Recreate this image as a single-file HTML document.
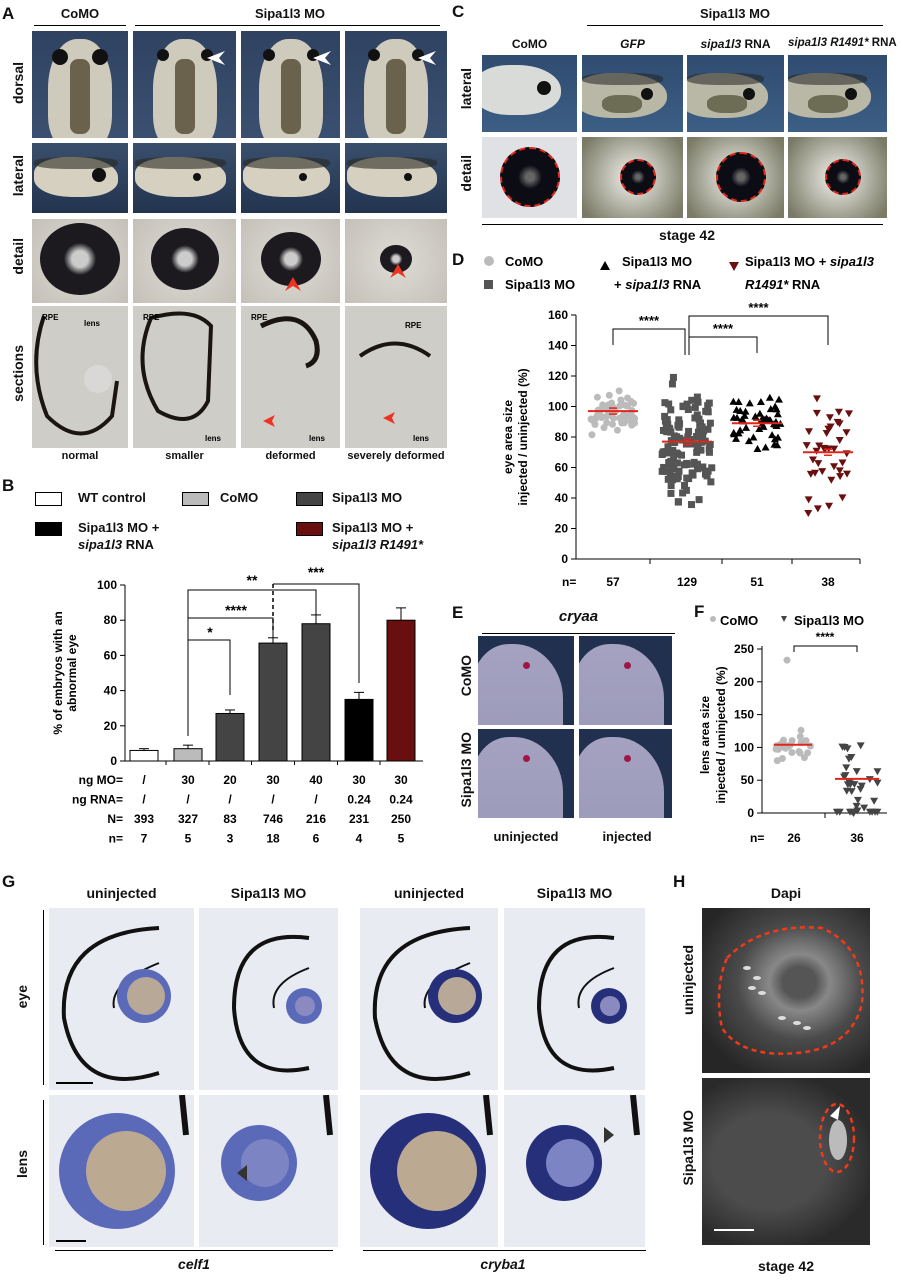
<!DOCTYPE html>
<html><head><meta charset="utf-8"><style>
body{margin:0;width:903px;height:1280px;background:#fff;position:relative;overflow:hidden;font-family:"Liberation Sans",Arial,sans-serif;color:#111}
.a{position:absolute}
.L{font-weight:bold;font-size:17px}
.t{font-size:13px;font-weight:bold}
.img{position:absolute;overflow:hidden}
.dot{position:absolute;border-radius:50%;background:#111}
.vl{writing-mode:vertical-rl;transform:rotate(180deg);font-weight:bold;font-size:14px;position:absolute;white-space:nowrap}
.gray{background:radial-gradient(circle at 50% 50%,#dedcd6,#c4c0b8)}
.sec{background:#cfcdc8}
.ish{background:#e9ebf2}
.ctr{text-align:center;white-space:nowrap}
</style></head><body>
<!-- Panel A -->
<div class="a L" style="left:2px;top:4px">A</div>
<div class="a t ctr" style="left:32px;top:6px;width:96px">CoMO</div>
<div class="a" style="left:34px;top:25px;width:92px;border-top:1px solid #000"></div>
<div class="a t ctr" style="left:133px;top:6px;width:314px">Sipa1l3 MO</div>
<div class="a" style="left:135px;top:25px;width:305px;border-top:1px solid #000"></div>
<div class="vl" style="left:10px;top:62px">dorsal</div>
<div class="vl" style="left:10px;top:155px">lateral</div>
<div class="vl" style="left:10px;top:238px">detail</div>
<div class="vl" style="left:10px;top:345px">sections</div>
<div id="Acols"></div>
<div class="a ctr" style="left:32px;top:450px;width:96px;font-size:11px;font-weight:bold">normal</div>
<div class="a ctr" style="left:133px;top:450px;width:103px;font-size:11px;font-weight:bold">smaller</div>
<div class="a ctr" style="left:241px;top:450px;width:99px;font-size:11px;font-weight:bold">deformed</div>
<div class="a ctr" style="left:345px;top:450px;width:102px;font-size:11px;font-weight:bold">severely deformed</div>

<!-- Panel B legend -->
<div class="a L" style="left:2px;top:476px">B</div>
<div class="a" style="left:35px;top:492px;width:25px;height:12px;border:1px solid #000;background:#fff"></div>
<div class="a t" style="left:78px;top:490px">WT control</div>
<div class="a" style="left:182px;top:492px;width:25px;height:12px;border:1px solid #000;background:#bbb"></div>
<div class="a t" style="left:220px;top:490px">CoMO</div>
<div class="a" style="left:296px;top:492px;width:25px;height:12px;border:1px solid #000;background:#444"></div>
<div class="a t" style="left:332px;top:490px">Sipa1l3 MO</div>
<div class="a" style="left:35px;top:522px;width:25px;height:12px;border:1px solid #000;background:#000"></div>
<div class="a t" style="left:78px;top:519px;line-height:17px">Sipa1l3 MO +<br><i>sipa1l3</i> RNA</div>
<div class="a" style="left:296px;top:522px;width:25px;height:12px;border:1px solid #000;background:#6a0f0f"></div>
<div class="a t" style="left:332px;top:519px;line-height:17px">Sipa1l3 MO +<br><i>sipa1l3 R1491*</i></div>

<!-- Panel C -->
<div class="a L" style="left:452px;top:2px">C</div>
<div class="a t ctr" style="left:587px;top:6px;width:296px">Sipa1l3 MO</div>
<div class="a" style="left:587px;top:25px;width:296px;border-top:1px solid #000"></div>
<div class="a t ctr" style="left:482px;top:37px;width:95px;font-size:12px">CoMO</div>
<div class="a t ctr" style="left:582px;top:37px;width:101px;font-size:12px"><i>GFP</i></div>
<div class="a t ctr" style="left:687px;top:37px;width:97px;font-size:12px"><i>sipa1l3</i> RNA</div>
<div class="a t ctr" style="left:788px;top:37px;width:99px;font-size:11.5px"><i>sipa1l3 R1491*</i> RNA</div>
<div class="vl" style="left:458px;top:68px">lateral</div>
<div class="vl" style="left:458px;top:155px">detail</div>
<div id="Ccols"></div>
<div class="a" style="left:482px;top:224px;width:401px;border-top:1px solid #000"></div>
<div class="a t ctr" style="left:587px;top:227px;width:200px;font-size:14px">stage 42</div>

<!-- Panel D legend -->
<div class="a L" style="left:452px;top:250px">D</div>

<!-- Panel E -->
<div class="a L" style="left:452px;top:603px">E</div>
<div class="a ctr" style="left:482px;top:608px;width:193px;font-size:15px;font-weight:bold;font-style:italic">cryaa</div>
<div class="a" style="left:482px;top:633px;width:193px;border-top:1px solid #000"></div>
<div class="vl" style="left:458px;top:655px">CoMO</div>
<div class="vl" style="left:458px;top:732px">Sipa1l3 MO</div>
<div id="Ecols"></div>
<div class="a t ctr" style="left:478px;top:829px;width:96px">uninjected</div>
<div class="a t ctr" style="left:579px;top:829px;width:96px">injected</div>

<!-- Panel F -->
<div class="a L" style="left:694px;top:602px">F</div>

<!-- Panel G -->
<div class="a L" style="left:2px;top:872px">G</div>
<div class="a t ctr" style="left:49px;top:885px;width:145px;font-size:14px">uninjected</div>
<div class="a t ctr" style="left:199px;top:885px;width:139px;font-size:14px">Sipa1l3 MO</div>
<div class="a t ctr" style="left:360px;top:885px;width:138px;font-size:14px">uninjected</div>
<div class="a t ctr" style="left:504px;top:885px;width:141px;font-size:14px">Sipa1l3 MO</div>
<div class="vl" style="left:14px;top:985px">eye</div>
<div class="vl" style="left:14px;top:1150px">lens</div>
<div class="a" style="left:43px;top:910px;height:175px;border-left:1px solid #000"></div>
<div class="a" style="left:43px;top:1100px;height:145px;border-left:1px solid #000"></div>
<div id="Gcols"></div>
<div class="a" style="left:55px;top:1250px;width:278px;border-top:1px solid #000"></div>
<div class="a" style="left:363px;top:1250px;width:283px;border-top:1px solid #000"></div>
<div class="a t ctr" style="left:94px;top:1256px;width:200px;font-size:14px"><i>celf1</i></div>
<div class="a t ctr" style="left:403px;top:1256px;width:200px;font-size:14px"><i>cryba1</i></div>

<!-- Panel H -->
<div class="a L" style="left:673px;top:872px">H</div>
<div class="a t ctr" style="left:702px;top:885px;width:168px;font-size:14px">Dapi</div>
<div class="vl" style="left:680px;top:945px">uninjected</div>
<div class="vl" style="left:680px;top:1110px">Sipa1l3 MO</div>
<div class="img" style="left:702px;top:908px;width:168px;height:165px;background:radial-gradient(ellipse at 58% 45%,#555 0 12%,#888 22%,#4a4a4a 45%,#262626 80%)">
<svg width="168" height="165"><path d="M25 50 Q60 15 120 20 Q165 40 160 95 Q150 140 95 145 Q40 150 20 120 Q12 80 25 50Z" fill="none" stroke="#f03a1a" stroke-width="2.5" stroke-dasharray="5 4"/>
<g fill="#ddd"><ellipse cx="45" cy="60" rx="4" ry="2"/><ellipse cx="55" cy="70" rx="4" ry="2"/><ellipse cx="60" cy="85" rx="4" ry="2"/><ellipse cx="80" cy="110" rx="4" ry="2"/><ellipse cx="95" cy="115" rx="4" ry="2"/><ellipse cx="105" cy="120" rx="4" ry="2"/><ellipse cx="50" cy="80" rx="4" ry="2"/></g></svg></div>
<div class="img" style="left:702px;top:1078px;width:168px;height:167px;background:radial-gradient(ellipse at 40% 50%,#4c4c4c 0 40%,#2a2a2a 75%)">
<svg width="168" height="167"><ellipse cx="135" cy="60" rx="17" ry="34" fill="none" stroke="#f03a1a" stroke-width="2.5" stroke-dasharray="5 4"/><ellipse cx="136" cy="62" rx="9" ry="20" fill="#bbb"/><path d="M128 38 l10 -10 l-2 14z" fill="#fff"/><line x1="12" x2="52" y1="152" y2="152" stroke="#fff" stroke-width="2"/></svg></div>
<div class="a t ctr" style="left:702px;top:1258px;width:168px;font-size:14px">stage 42</div>

<svg class="a" style="left:0;top:0" width="903" height="1280" font-family="Liberation Sans" font-size="12" font-weight="bold" id="charts"></svg>

<script>
function el(id,html){document.getElementById(id).insertAdjacentHTML('beforeend',html)}
// Panel A
var ax=[[32,96],[133,103],[241,99],[345,102]];
ax.forEach(function(c,i){
 var x=c[0],w=c[1],cx=w/2;
 el('Acols','<div class="img" style="left:'+x+'px;top:31px;width:'+w+'px;height:107px;background:linear-gradient(#2f4262,#3b5070)"><div style="position:absolute;left:'+(cx-32)+'px;top:8px;width:64px;height:110px;border-radius:45% 45% 30% 30%;background:#cfcbbc"></div><div class="dot" style="left:'+(cx-28)+'px;top:18px;width:'+(i?12:16)+'px;height:'+(i?12:16)+'px"></div><div class="dot" style="left:'+(cx+(i?16:12))+'px;top:18px;width:'+(i?12:16)+'px;height:'+(i?12:16)+'px"></div><div style="position:absolute;left:'+(cx-10)+'px;top:28px;width:20px;height:75px;background:#4a3f2a;opacity:.75;border-radius:8px"></div>'+(i?'<svg style="position:absolute;left:'+(cx+22)+'px;top:20px" width="20" height="14"><path d="M0 7 L18 0 L12 7 L18 14Z" fill="#fff"/></svg>':'')+'</div>');
 el('Acols','<div class="img" style="left:'+x+'px;top:143px;width:'+w+'px;height:70px;background:linear-gradient(#3a4f6d,#22344e)"><div style="position:absolute;left:2px;top:14px;width:'+(w-12)+'px;height:40px;border-radius:40% 50% 40% 45%;background:#d6d0c0"></div><div style="position:absolute;left:2px;top:14px;width:'+(w-12)+'px;height:12px;background:#2a2a22;opacity:.6;border-radius:40%"></div><div class="dot" style="left:'+(cx+(i?8:12))+'px;top:'+(i?30:25)+'px;width:'+(i?8:14)+'px;height:'+(i?8:14)+'px"></div></div>');
 var r=[40,34,30,16][i];
 el('Acols','<div class="img gray" style="left:'+x+'px;top:219px;width:'+w+'px;height:84px"><div class="dot" style="left:'+(cx-r)+'px;top:'+(40-r*0.9)+'px;width:'+2*r+'px;height:'+(1.8*r)+'px;background:radial-gradient(circle,#ccc 0 15%,#1c1a1e 30%)"></div>'+(i>1?'<svg style="position:absolute;left:'+(cx-6)+'px;top:'+(i==2?58:45)+'px" width="16" height="14"><path d="M8 0 L16 14 L8 9 L0 14Z" fill="#e32"/></svg>':'')+'</div>');
 var p=['M12 10 Q-5 60 15 110 Q50 145 80 110 L85 75','M18 12 Q-2 60 25 105 Q60 125 75 95 L78 20 Q60 0 18 12','M20 20 Q60 0 75 35 Q80 55 65 60','M15 50 Q50 25 85 50'][i];
 el('Acols','<div class="img sec" style="left:'+x+'px;top:306px;width:'+w+'px;height:142px"><svg width="'+w+'" height="142"><path d="'+p+'" fill="none" stroke="#1a1510" stroke-width="'+(i==2?5:4)+'"/><text x="'+(i==3?60:10)+'" y="'+(i==3?22:14)+'" font-size="8" font-weight="bold" font-family="Liberation Sans">RPE</text><text x="'+(i==0?52:(i==1?72:68))+'" y="'+(i==0?20:135)+'" font-size="8" font-weight="bold" font-family="Liberation Sans">lens</text>'+(i==0?'<circle cx="66" cy="73" r="14" fill="#ddd" opacity=".7"/>':'')+(i>1?'<path d="M'+(i==2?22:38)+' '+(i==2?115:112)+' l12 -6 l-3 6 l3 6z" fill="#e32"/>':'')+'</svg></div>');
});
// Panel C
var cc=[[482,95],[582,101],[687,97],[788,99]],cr=[30,18,25,18];
cc.forEach(function(c,i){
 var x=c[0],w=c[1];
 el('Ccols','<div class="img" style="left:'+x+'px;top:55px;width:'+w+'px;height:77px;background:linear-gradient(#2f4b70,#3d5f85)"><div style="position:absolute;left:-8px;top:'+(i?18:10)+'px;width:'+(w-8)+'px;height:'+(i?45:50)+'px;border-radius:40% 50% 45% 40%;background:'+(i?'#b9b8a6':'#d8dbd8')+'"></div>'+(i?'<div style="position:absolute;left:0;top:18px;width:'+(w-20)+'px;height:12px;background:#222;opacity:.55;border-radius:40%"></div><div style="position:absolute;left:20px;top:40px;width:40px;height:18px;background:#3b3a20;opacity:.6;border-radius:40%"></div>':'')+'<div class="dot" style="left:'+(w*0.58)+'px;top:'+(i?33:26)+'px;width:'+(i?12:14)+'px;height:'+(i?12:14)+'px"></div></div>');
 var r=cr[i];
 el('Ccols','<div class="img" style="left:'+x+'px;top:137px;width:'+w+'px;height:81px;background:'+(i?'radial-gradient(circle,#d8d8d0 20%,#7a7a66 90%)':'#dfe1e4')+'"><div class="dot" style="left:'+(w/2-r+(i?5:0))+'px;top:'+(40-r)+'px;width:'+2*r+'px;height:'+2*r+'px;background:radial-gradient(circle,#666 0 10%,#0c0c14 30%);border:2px dashed #e0261a;box-sizing:border-box"></div></div>');
});
// Panel E
[[478,636],[579,636],[478,729],[579,729]].forEach(function(p){
 el('Ecols','<div class="img" style="left:'+p[0]+'px;top:'+p[1]+'px;width:'+(p[0]==478?96:93)+'px;height:89px;background:#20304e"><div style="position:absolute;left:-5px;top:8px;width:90px;height:100px;border-radius:40% 55% 20% 10%;background:linear-gradient(#a4a2c0,#9b9ab8)"></div><div class="dot" style="left:'+(p[0]==478?45:45)+'px;top:26px;width:7px;height:7px;background:#a01545"></div></div>');
});
// Panel G
var gc=[[49,145],[199,139],[360,138],[504,141]];
gc.forEach(function(c,i){
 var x=c[0],w=c[1],sm=i%2,dk=i>1;
 var lc=dk?'#26307a':'#5a6ab8';
 el('Gcols','<div class="img ish" style="left:'+x+'px;top:908px;width:'+w+'px;height:182px"><svg width="'+w+'" height="182"><path d="'+(sm?'M110 30 Q35 20 35 100 Q40 175 110 160':'M110 20 Q10 25 15 110 Q30 190 110 165')+'" fill="none" stroke="#111" stroke-width="4"/><path d="M110 '+(sm?60:55)+' Q'+(sm?70:60)+' 75 '+(sm?75:65)+' 100" fill="none" stroke="#111" stroke-width="2"/><circle cx="'+(sm?105:95)+'" cy="'+(sm?98:88)+'" r="'+(sm?18:27)+'" fill="'+lc+'"/><circle cx="'+(sm?106:97)+'" cy="'+(sm?98:88)+'" r="'+(sm?10:19)+'" fill="'+(sm?'#8a8ac0':'#b8a898')+'"/></svg></div>');
 el('Gcols','<div class="img ish" style="left:'+x+'px;top:1095px;width:'+w+'px;height:152px"><svg width="'+w+'" height="152"><circle cx="'+(sm?60:68)+'" cy="'+(sm?68:76)+'" r="'+(sm?38:58)+'" fill="'+lc+'"/><circle cx="'+(sm?66:77)+'" cy="'+(sm?68:76)+'" r="'+(sm?24:40)+'" fill="'+(sm?'#7d84c4':'#bca992')+'"/><path d="M'+(w-12)+' 0 L'+(w-8)+' 40" stroke="#111" stroke-width="6"/>'+(sm?'<path d="'+(i==1?'M38 78 l10 -8 v16z':'M110 40 l-10 -8 v16z')+'" fill="#333"/>':'')+'</svg></div>');
});
el('Gcols','<div class="a" style="left:56px;top:1082px;width:37px;border-top:2px solid #000"></div><div class="a" style="left:56px;top:1240px;width:30px;border-top:2px solid #000"></div>');

var seed=7;function rnd(){seed=(seed*9301+49297)%233280;return seed/233280;}
function gauss(){return (rnd()+rnd()+rnd()-1.5)*1.6;}
var g='';
function txt(x,y,s,anc,extra){g+='<text x="'+x+'" y="'+y+'"'+(anc?' text-anchor="'+anc+'"':'')+(extra||'')+'>'+s+'</text>';}
function line(x1,y1,x2,y2,c,w,d){g+='<line x1="'+x1+'" y1="'+y1+'" x2="'+x2+'" y2="'+y2+'" stroke="'+(c||'#000')+'" stroke-width="'+(w||1)+'"'+(d?' stroke-dasharray="'+d+'"':'')+'/>';}
// B chart
(function(){
 var y0=761,sc=1.76,axx=125;
 g+='<text transform="translate(62,673) rotate(-90)" text-anchor="middle">% of embryos with an</text>';
 g+='<text transform="translate(76,673) rotate(-90)" text-anchor="middle">abnormal eye</text>';
 line(axx,585,axx,y0);line(axx,y0,423,y0);
 [0,20,40,60,80,100].forEach(function(v){var y=y0-v*sc;line(axx-5,y,axx,y);txt(axx-8,y+4,v,'end');});
 var xs=[144,188,230,273,316,359,401],hv=[6,7,27,67,78,35,80],er=[1,2,2,3,5,4,7],col=['#fff','#bbb','#444','#444','#444','#000','#6a0f0f'];
 xs.forEach(function(x,i){var h=hv[i]*sc;g+='<rect x="'+(x-14)+'" y="'+(y0-h)+'" width="28" height="'+h+'" fill="'+col[i]+'" stroke="#000"/>';var te=y0-h-er[i]*sc;line(x,y0-h,x,te);line(x-5,te,x+5,te);if(i>0&&i<7)line((x+xs[i-1])/2,y0,(x+xs[i-1])/2,y0+4);});
 function br(x1,x2,y,yl,yr,lab,ty){g+='<path d="M'+x1+' '+yl+' V'+y+' H'+x2+' V'+yr+'" fill="none" stroke="#000"/>';txt(ty||(x1+x2)/2,y-3,lab,'middle',' font-size="14"');}
 br(188,230,640,736,695,'*',210);
 br(188,273,618,736,640,'****',236);
 g+='<path d="M188 736 V590 H316 V622" fill="none" stroke="#000"/>';txt(252,585,'**','middle',' font-size="14"');
 g+='<path d="M273 584 H359 V683" fill="none" stroke="#000"/>';line(273,584,273,632,'#000',1.5,'4 3');txt(316,577,'***','middle',' font-size="14"');
 var rows=[['ng MO=','/','30','20','30','40','30','30'],['ng RNA=','/','/','/','/','/','0.24','0.24'],['N=','393','327','83','746','216','231','250'],['n=','7','5','3','18','6','4','5']];
 rows.forEach(function(r,j){var y=784+j*19.5;txt(123,y,r[0],'end');xs.forEach(function(x,i){txt(x,y,r[i+1],'middle');});});
})();
// D chart
(function(){
 var y0=559,sc=1.525,axx=576;
 g+='<circle cx="489" cy="261" r="5" fill="#bbb"/>';txt(505,266,'CoMO','',' font-size="13"');
 g+='<rect x="484" y="280" width="9" height="9" fill="#555"/>';txt(505,289,'Sipa1l3 MO','',' font-size="13"');
 g+='<path d="M600 270 l5 -9 l5 9z" fill="#000"/>';txt(622,266,'Sipa1l3 MO','',' font-size="13"');g+='<text x="614" y="289" font-size="13">+ <tspan font-style="italic">sipa1l3</tspan> RNA</text>';
 g+='<path d="M729 262 l5 9 l5 -9z" fill="#6a0f0f"/><text x="745" y="266" font-size="13">Sipa1l3 MO + <tspan font-style="italic">sipa1l3</tspan></text><text x="745" y="289" font-size="13" font-style="italic">R1491*<tspan font-style="normal"> RNA</tspan></text>';
 g+='<text transform="translate(512,437) rotate(-90)" text-anchor="middle">eye area size</text><text transform="translate(527,437) rotate(-90)" text-anchor="middle">injected / uninjected (%)</text>';
 line(axx,315,axx,y0);line(axx,y0,860,y0);
 for(var v=0;v<=160;v+=20){var y=y0-v*sc;line(axx-5,y,axx,y);txt(axx-8,y+4,v,'end');}
 [650,722,792,860].forEach(function(x){line(x,y0,x,y0+5);});
 var cols=[[613,57,97,8,'c','#bbb',22],[687,129,77,22,'s','#555',25],[757,51,89,10,'t','#000',24],[828,38,70,22,'v','#6a0f0f',22]];
 cols.forEach(function(c){for(var k=0;k<c[1];k++){var val=Math.max(0,Math.min(c[2]+48,c[2]+gauss()*c[3]));var y=y0-val*sc;var x=c[0]+(rnd()-0.5)*2*c[6];
  if(c[4]=='c')g+='<circle cx="'+x+'" cy="'+y+'" r="3.5" fill="'+c[5]+'"/>';
  else if(c[4]=='s')g+='<rect x="'+(x-3.5)+'" y="'+(y-3.5)+'" width="7" height="7" fill="'+c[5]+'"/>';
  else if(c[4]=='t')g+='<path d="M'+(x-4)+' '+(y+3)+' l4 -7 l4 7z" fill="'+c[5]+'"/>';
  else g+='<path d="M'+(x-4)+' '+(y-3)+' l4 7 l4 -7z" fill="'+c[5]+'"/>';}
  var my=y0-c[2]*sc;line(c[0]-25,my,c[0]+25,my,'#e0261a',2);line(c[0]-4,my-3,c[0]+4,my-3,'#e0261a',1.5);line(c[0]-4,my+3,c[0]+4,my+3,'#e0261a',1.5);});
 function br(x1,x2,y,yl,yr){g+='<path d="M'+x1+' '+yl+' V'+y+' H'+x2+' V'+yr+'" fill="none" stroke="#000"/>';txt((x1+x2)/2,y-4,'****','middle',' font-size="13"');}
 br(613,685,329,345,355);br(689,757,337,355,353);br(689,828,316,355,345);
 txt(562,586,'n=');[['57',613],['129',687],['51',757],['38',828]].forEach(function(n){txt(n[1],586,n[0],'middle');});
})();
// F chart
(function(){
 var y0=813,sc=0.656,axx=762;
 g+='<circle cx="713" cy="619" r="3" fill="#bbb"/>';txt(720,625,'CoMO','',' font-size="13"');
 g+='<path d="M781 616 l3 6 l3 -6z" fill="#444"/>';txt(794,625,'Sipa1l3 MO','',' font-size="13"');
 g+='<text transform="translate(709,735) rotate(-90)" text-anchor="middle">lens area size</text><text transform="translate(725,735) rotate(-90)" text-anchor="middle">injected / uninjected (%)</text>';
 line(axx,646,axx,y0);line(axx,y0,887,y0);line(825,y0,825,y0+5);
 [0,50,100,150,200,250].forEach(function(v){var y=y0-v*sc;line(axx-5,y,axx,y);txt(axx-8,y+4,v,'end');});
 for(var k=0;k<26;k++){var v=k==0?233:104+gauss()*12;g+='<circle cx="'+(794+(k==0?-7:(rnd()-.5)*36))+'" cy="'+(y0-v*sc)+'" r="3.5" fill="#bbb"/>';}
 for(var k=0;k<36;k++){var v=k<8?2:Math.max(0,Math.min(145,55+gauss()*32));var x=857+(rnd()-.5)*42,y=y0-v*sc;g+='<path d="M'+(x-4)+' '+(y-3)+' l4 7 l4 -7z" fill="#444"/>';}
 line(774,y0-104*sc,812,y0-104*sc,'#e0261a',2);line(835,y0-52*sc,879,y0-52*sc,'#e0261a',2);
 g+='<path d="M794 652 V646 H857 V652" fill="none" stroke="#000"/>';txt(825,641,'****','middle',' font-size="12"');
 txt(750,842,'n=');txt(794,842,'26','middle');txt(857,842,'36','middle');
})();
document.getElementById('charts').innerHTML=g;
</script>
</body></html>
